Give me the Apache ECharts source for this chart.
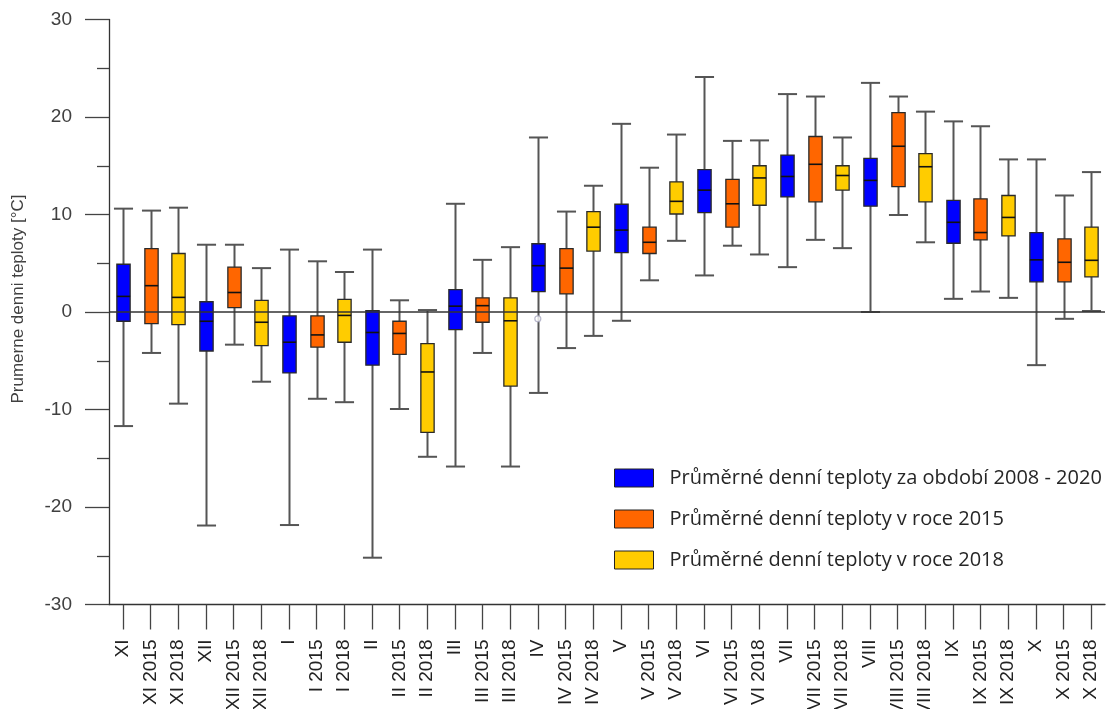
<!DOCTYPE html>
<html>
<head>
<meta charset="utf-8">
<title>Průměrné denní teploty</title>
<script src="https://cdn.jsdelivr.net/npm/echarts@6/dist/echarts.min.js"></script>
<style>
  html, body { margin: 0; padding: 0; background: #ffffff; }
  #chart { width: 1114px; height: 709px; }
</style>
</head>
<body>
<div id="chart"></div>
<script>
// Months in the order shown (November .. October)
const months = ['XI', 'XII', 'I', 'II', 'III', 'IV', 'V', 'VI', 'VII', 'VIII', 'IX', 'X'];

// Category labels: each month for the period, for 2015 and for 2018
const categories = [
  'XI', 'XI 2015', 'XI 2018', 'XII', 'XII 2015', 'XII 2018',
  'I', 'I 2015', 'I 2018', 'II', 'II 2015', 'II 2018',
  'III', 'III 2015', 'III 2018', 'IV', 'IV 2015', 'IV 2018',
  'V', 'V 2015', 'V 2018', 'VI', 'VI 2015', 'VI 2018',
  'VII', 'VII 2015', 'VII 2018', 'VIII', 'VIII 2015', 'VIII 2018',
  'IX', 'IX 2015', 'IX 2018', 'X', 'X 2015', 'X 2018'
];

// [min, Q1, median, Q3, max] of mean daily temperature (°C), one row per month
const period20082020 = [
  [-11.7, -0.95, 1.6, 4.9, 10.6],
  [-21.9, -4.0, -0.95, 1.05, 6.9],
  [-21.85, -6.25, -3.1, -0.4, 6.4],
  [-25.2, -5.45, -2.1, 0.15, 6.4],
  [-15.85, -1.8, 0.6, 2.3, 11.1],
  [-8.3, 2.1, 4.75, 7.0, 17.9],
  [-0.9, 6.1, 8.4, 11.05, 19.3],
  [3.75, 10.2, 12.5, 14.6, 24.1],
  [4.6, 11.8, 13.9, 16.1, 22.35],
  [0.0, 10.85, 13.5, 15.75, 23.5],
  [1.35, 7.05, 9.2, 11.45, 19.55],
  [-5.45, 3.1, 5.35, 8.15, 15.65]
];

const year2015 = [
  [-4.2, -1.2, 2.7, 6.5, 10.4],
  [-3.35, 0.45, 2.0, 4.6, 6.9],
  [-8.9, -3.6, -2.35, -0.4, 5.2],
  [-9.95, -4.35, -2.2, -0.95, 1.2],
  [-4.2, -1.05, 0.65, 1.45, 5.35],
  [-3.7, 1.85, 4.5, 6.5, 10.3],
  [3.25, 6.0, 7.15, 8.7, 14.8],
  [6.8, 8.7, 11.1, 13.6, 17.55],
  [7.4, 11.3, 15.15, 18.0, 22.1],
  [9.95, 12.85, 17.0, 20.45, 22.1],
  [2.1, 7.4, 8.15, 11.6, 19.05],
  [-0.7, 3.1, 5.1, 7.5, 11.95]
];

const year2018 = [
  [-9.4, -1.3, 1.5, 6.0, 10.7],
  [-7.15, -3.45, -1.05, 1.2, 4.5],
  [-9.25, -3.1, -0.35, 1.3, 4.1],
  [-14.85, -12.35, -6.15, -3.25, 0.2],
  [-15.85, -7.6, -0.9, 1.45, 6.65],
  [-2.45, 6.25, 8.7, 10.3, 12.95],
  [7.3, 10.05, 11.35, 13.35, 18.2],
  [5.9, 10.95, 13.75, 15.0, 17.6],
  [6.55, 12.5, 14.0, 15.0, 17.9],
  [7.15, 11.3, 14.9, 16.25, 20.55],
  [1.45, 7.8, 9.7, 11.95, 15.65],
  [0.1, 3.6, 5.3, 8.7, 14.35]
];

// Single outlying value (April, period 2008 - 2020)
const outliers = [['IV', -0.7]];

const seriesNames = [
  'Průměrné denní teploty za období 2008 - 2020',
  'Průměrné denní teploty v roce 2015',
  'Průměrné denní teploty v roce 2018'
];
const seriesColors = ['#0000ff', '#ff6600', '#ffcc00'];
const yTicks = [-30, 30, 10];

// Box with whiskers and wide end caps, positioned through the axes
function renderBox(params, api) {
  const x = api.value(0);
  const pMin = api.coord([x, api.value(1)]);
  const pQ1 = api.coord([x, api.value(2)]);
  const pMed = api.coord([x, api.value(3)]);
  const pQ3 = api.coord([x, api.value(4)]);
  const pMax = api.coord([x, api.value(5)]);
  const band = api.size([1, 0])[0];
  const bw = band * 0.48;
  const cw = band * 0.69;
  const cx = Math.round(pMin[0]) + 0.5;
  const whisker = { stroke: '#555555', lineWidth: 2 };
  return {
    type: 'group',
    children: [
      { type: 'line', shape: { x1: cx, y1: pMax[1], x2: cx, y2: pMin[1] }, style: whisker },
      { type: 'line', shape: { x1: cx - cw / 2, y1: pMax[1], x2: cx + cw / 2, y2: pMax[1] }, style: whisker },
      { type: 'line', shape: { x1: cx - cw / 2, y1: pMin[1], x2: cx + cw / 2, y2: pMin[1] }, style: whisker },
      {
        type: 'rect',
        shape: { x: cx - bw / 2, y: pQ3[1], width: bw, height: pQ1[1] - pQ3[1] },
        style: { fill: api.visual('color'), stroke: '#2a2a2a', lineWidth: 1.3 }
      },
      { type: 'line', shape: { x1: cx - bw / 2, y1: pMed[1], x2: cx + bw / 2, y2: pMed[1] }, style: { stroke: '#111111', lineWidth: 1.6 } }
    ]
  };
}

function buildData(rows, offset) {
  return rows.map((r, m) => [m * 3 + offset].concat(r));
}

const groups = [period20082020, year2015, year2018];
const series = groups.map((rows, i) => ({
  name: seriesNames[i],
  type: 'custom',
  renderItem: renderBox,
  itemStyle: { color: seriesColors[i] },
  encode: { x: 0, y: [1, 2, 3, 4, 5] },
  data: buildData(rows, i)
}));

// Zero reference line drawn above the boxes
series[0].markLine = {
  silent: true,
  symbol: ['none', 'none'],
  label: { show: false },
  lineStyle: { color: '#333333', width: 1.5, type: 'solid' },
  data: [{ yAxis: 0 }],
  z: 10
};

series.push({
  name: 'outlier',
  type: 'scatter',
  symbol: 'circle',
  symbolSize: 6,
  itemStyle: { color: '#ffffff', borderColor: '#a8a8c0', borderWidth: 1.2 },
  data: outliers,
  z: 11
});

const chart = echarts.init(document.getElementById('chart'));
chart.setOption({
  animation: false,
  backgroundColor: '#ffffff',
  grid: { left: 109, right: 9, top: 19.5, bottom: 104.5, outerBoundsMode: 'none', containLabel: false },
  legend: {
    data: seriesNames.map((n, i) => ({
      name: n,
      itemStyle: { color: seriesColors[i], borderColor: '#222222', borderWidth: 1 }
    })),
    orient: 'vertical',
    left: 609,
    top: 463,
    icon: 'rect',
    itemWidth: 39,
    itemHeight: 18,
    itemGap: 21,
    textStyle: {
      fontFamily: 'Open Sans',
      fontSize: 20,
      color: '#262626',
      lineHeight: 20,
      padding: [0, 0, 0, 11]
    }
  },
  xAxis: {
    type: 'category',
    data: categories,
    boundaryGap: true,
    axisLine: { onZero: false, lineStyle: { color: '#333333', width: 1.3 } },
    axisTick: { show: true, alignWithLabel: true, interval: 0, length: 25, lineStyle: { color: '#444444', width: 1.3 } },
    axisLabel: {
      interval: 0,
      rotate: 90,
      margin: 35,
      fontFamily: 'Liberation Sans',
      fontSize: 19,
      color: '#222222'
    },
    splitLine: { show: false }
  },
  yAxis: {
    type: 'value',
    min: yTicks[0],
    max: yTicks[1],
    interval: yTicks[2],
    name: 'Prumerne denni teploty [°C]',
    nameLocation: 'middle',
    nameGap: 82,
    nameTextStyle: {
      fontFamily: 'Liberation Sans',
      fontSize: 17,
      color: '#404040',
      padding: [0, 0, 0, 26]
    },
    axisLine: { show: true, lineStyle: { color: '#333333', width: 1.3 } },
    axisTick: { show: true, length: 24, lineStyle: { color: '#444444', width: 1.3 } },
    minorTick: { show: true, splitNumber: 2, length: 12, lineStyle: { color: '#444444', width: 1.3 } },
    axisLabel: {
      margin: 37,
      fontFamily: 'Liberation Sans',
      fontSize: 19,
      color: '#404040'
    },
    splitLine: { show: false },
    minorSplitLine: { show: false }
  },
  series: series
});
</script>
</body>
</html>
